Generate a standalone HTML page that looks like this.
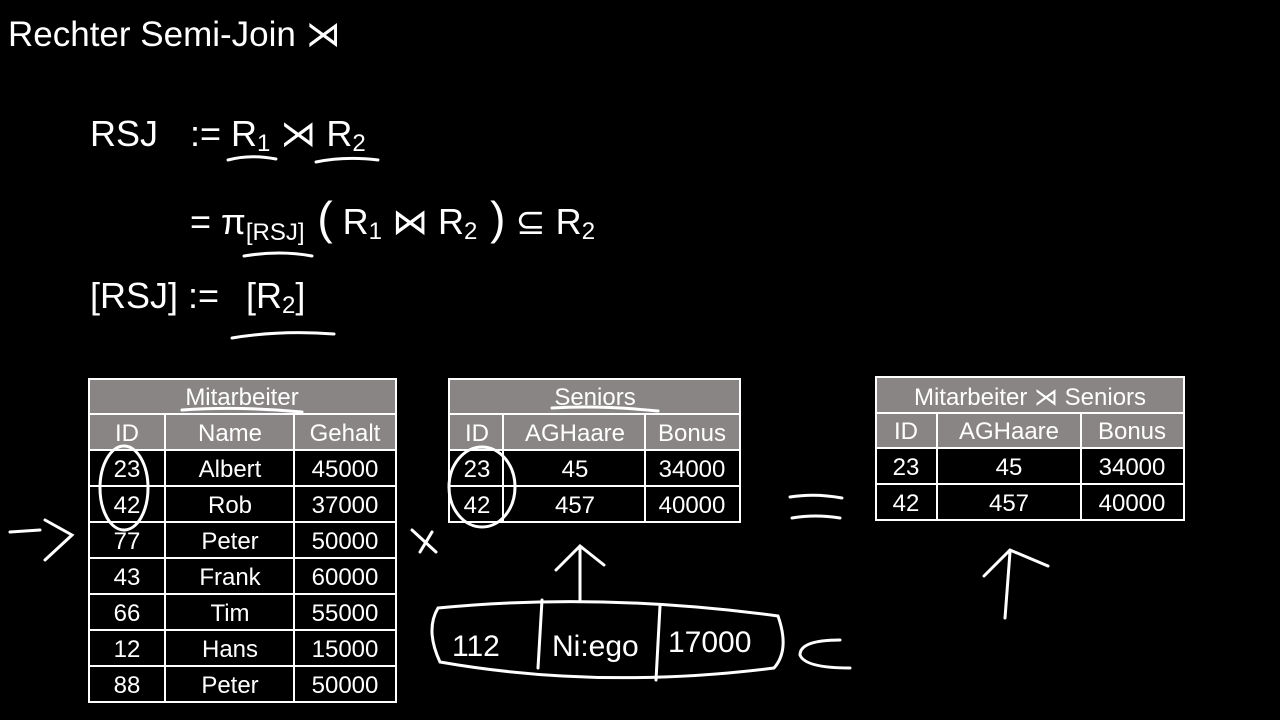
<!DOCTYPE html>
<html><head><style>body{margin:0;background:#000;width:1280px;height:720px;overflow:hidden}svg{display:block}</style></head>
<body>
<svg width="1280" height="720" viewBox="0 0 1280 720" xmlns="http://www.w3.org/2000/svg" font-family="Liberation Sans, DejaVu Sans, sans-serif" fill="#fff">
<rect width="1280" height="720" fill="#000"/>
<text x="8" y="46" font-size="35">Rechter Semi-Join ⋊</text>
<text x="90" y="146" font-size="36">RSJ</text>
<text x="190" y="146" font-size="36">:= R<tspan font-size="24" dy="5">1</tspan><tspan dy="-5"> ⋊ R</tspan><tspan font-size="24" dy="5">2</tspan></text>
<text x="190" y="234" font-size="36">= π<tspan font-size="24" dy="6">[RSJ]</tspan><tspan dy="-6" font-size="46"> (</tspan><tspan font-size="36"> R</tspan><tspan font-size="24" dy="5">1</tspan><tspan dy="-5"> ⋈ R</tspan><tspan font-size="24" dy="5">2</tspan><tspan dy="-5" font-size="46"> )</tspan><tspan> ⊆ R</tspan><tspan font-size="24" dy="5">2</tspan></text>
<text x="90" y="308" font-size="36">[RSJ] :=</text>
<text x="246" y="308" font-size="36">[R<tspan font-size="24" dy="5">2</tspan><tspan dy="-5">]</tspan></text>
<g fill="none" stroke="#fff" stroke-width="3" stroke-linecap="round">
<path d="M228 160 Q250 154 276 159"/><path d="M316 162 Q345 156 378 160"/>
<path d="M244 256 Q280 250 312 256"/><path d="M232 338 Q280 330 334 334"/>
</g>
<g font-size="24" text-anchor="middle">
<rect x="89" y="379" width="307" height="71" fill="#8a8585"/>
<g stroke="#fff" stroke-width="2" fill="none">
<rect x="89" y="379" width="307" height="323"/>
<path d="M89 414H396M89 450H396M89 486H396M89 522H396M89 558H396M89 594H396M89 630H396M89 666H396M165 414V702M294 414V702"/>
</g>
<text x="242" y="405">Mitarbeiter</text>
<text x="127" y="441">ID</text><text x="230" y="441">Name</text><text x="345" y="441">Gehalt</text>
<text x="127" y="477">23</text><text x="230" y="477">Albert</text><text x="345" y="477">45000</text>
<text x="127" y="513">42</text><text x="230" y="513">Rob</text><text x="345" y="513">37000</text>
<text x="127" y="549">77</text><text x="230" y="549">Peter</text><text x="345" y="549">50000</text>
<text x="127" y="585">43</text><text x="230" y="585">Frank</text><text x="345" y="585">60000</text>
<text x="127" y="621">66</text><text x="230" y="621">Tim</text><text x="345" y="621">55000</text>
<text x="127" y="657">12</text><text x="230" y="657">Hans</text><text x="345" y="657">15000</text>
<text x="127" y="693">88</text><text x="230" y="693">Peter</text><text x="345" y="693">50000</text>
<rect x="449" y="379" width="291" height="71" fill="#8a8585"/>
<g stroke="#fff" stroke-width="2" fill="none">
<rect x="449" y="379" width="291" height="143"/>
<path d="M449 414H740M449 450H740M449 486H740M503 414V522M645 414V522"/>
</g>
<text x="595" y="405">Seniors</text>
<text x="477" y="441">ID</text><text x="575" y="441">AGHaare</text><text x="692" y="441">Bonus</text>
<text x="477" y="477">23</text><text x="575" y="477">45</text><text x="692" y="477">34000</text>
<text x="477" y="513">42</text><text x="575" y="513">457</text><text x="692" y="513">40000</text>
<rect x="876" y="377" width="308" height="71" fill="#8a8585"/>
<g stroke="#fff" stroke-width="2" fill="none">
<rect x="876" y="377" width="308" height="143"/>
<path d="M876 413H1184M876 448H1184M876 484H1184M937 413V520M1081 413V520"/>
</g>
<text x="1030" y="405">Mitarbeiter ⋊ Seniors</text>
<text x="906" y="439">ID</text><text x="1009" y="439">AGHaare</text><text x="1132" y="439">Bonus</text>
<text x="906" y="475">23</text><text x="1009" y="475">45</text><text x="1132" y="475">34000</text>
<text x="906" y="511">42</text><text x="1009" y="511">457</text><text x="1132" y="511">40000</text>
</g>
<g fill="none" stroke="#fff" stroke-width="3" stroke-linecap="round">
<path d="M182 410 Q240 406 302 412"/><path d="M552 408 Q600 405 658 411"/>
<ellipse cx="124" cy="488" rx="24" ry="42"/><ellipse cx="482" cy="487" rx="33" ry="40"/>
<path d="M10 532 L40 530 M45 520 L72 535 L45 560"/>
<path d="M412 530 L436 552 M420 552 L432 532"/>
<path d="M790 497 Q815 493 842 498 M792 518 Q815 514 840 518"/>
<path d="M580 600 L580 548 M556 570 L580 546 L604 565"/>
<path d="M1005 618 L1010 552 M984 576 L1010 550 L1048 566"/>
<path d="M438 608 Q600 592 778 616 Q790 650 774 668 Q600 690 440 662 Q425 630 438 608Z"/>
<path d="M542 600 L538 668 M660 606 L656 680"/>
<path d="M840 640 Q800 640 800 655 Q805 668 850 668"/>
</g>
<g font-family="Liberation Sans, sans-serif" font-size="30" fill="#fff">
<text x="452" y="656">112</text><text x="552" y="656">Ni:ego</text><text x="668" y="652">17000</text>
</g>
</svg>
</body></html>
